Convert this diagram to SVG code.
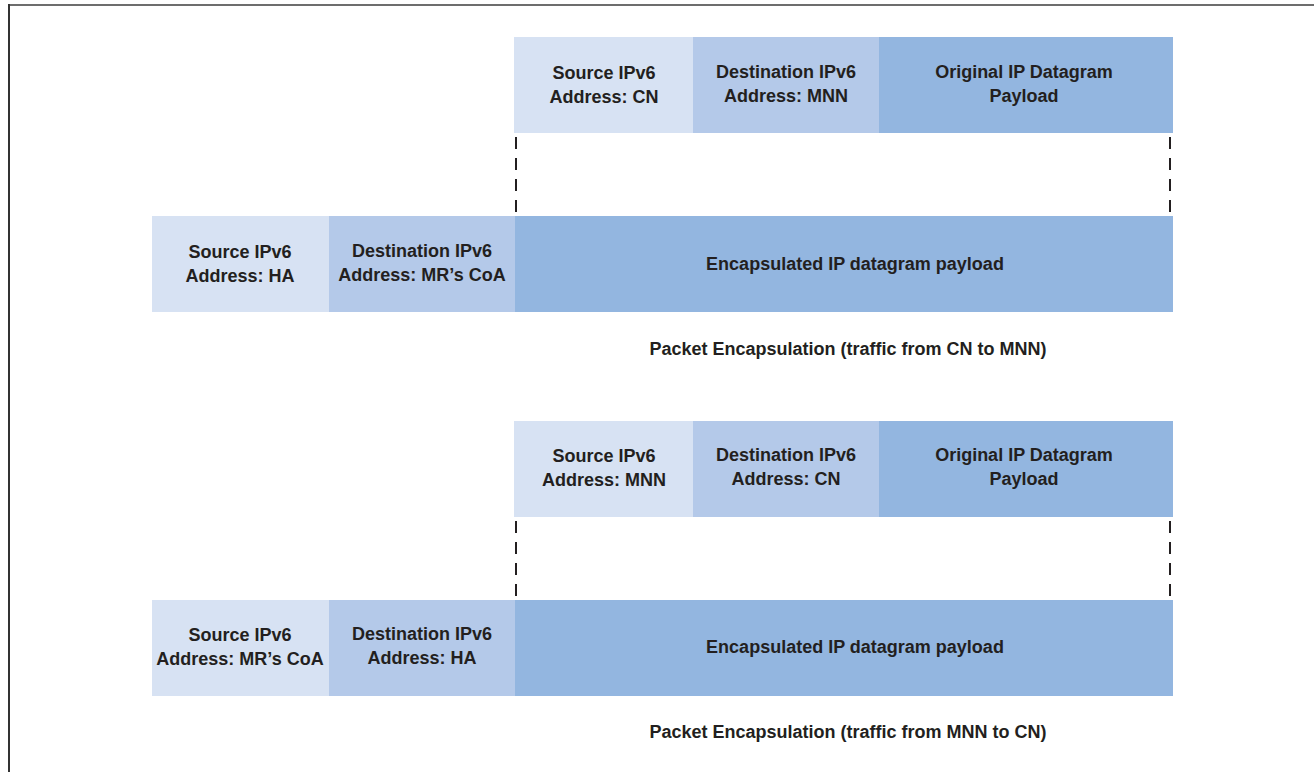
<svg xmlns="http://www.w3.org/2000/svg" width="1314" height="772" viewBox="0 0 1314 772">
<style>
.t{font-family:"Liberation Sans Narrow","Liberation Sans",Arial,sans-serif;font-weight:bold;font-size:18px;fill:#231f20;text-anchor:middle}
.c1{fill:#d7e2f3}.c2{fill:#b4c9e9}.c3{fill:#93b6e0}
.d{stroke:#231f20;stroke-width:2;stroke-dasharray:12 9;fill:none}
</style>
<rect width="1314" height="772" fill="#fff"/>
<line x1="9" y1="5" x2="1314" y2="5" stroke="#6d6d6d" stroke-width="2"/>
<line x1="9" y1="4" x2="9" y2="772" stroke="#333" stroke-width="2"/>
<g id="top1">
<rect class="c1" x="514" y="37" width="179" height="96"/>
<rect class="c2" x="693" y="37" width="186" height="96"/>
<rect class="c3" x="879" y="37" width="294" height="96"/>
<text class="t" x="604" y="79">Source IPv6</text><text class="t" x="604" y="103">Address: CN</text>
<text class="t" x="786" y="78">Destination IPv6</text><text class="t" x="786" y="102">Address: MNN</text>
<text class="t" x="1024" y="78">Original IP Datagram</text><text class="t" x="1024" y="102">Payload</text>
</g>
<g id="mid1">
<rect class="c1" x="152" y="216" width="177" height="96"/>
<rect class="c2" x="329" y="216" width="186" height="96"/>
<rect class="c3" x="515" y="216" width="658" height="96"/>
<text class="t" x="240" y="258">Source IPv6</text><text class="t" x="240" y="282">Address: HA</text>
<text class="t" x="422" y="257">Destination IPv6</text><text class="t" x="422" y="281">Address: MR’s CoA</text>
<text class="t" x="855" y="270">Encapsulated IP datagram payload</text>
</g>
<text class="t" x="848" y="355">Packet Encapsulation (traffic from CN to MNN)</text>
<g id="top2">
<rect class="c1" x="514" y="421" width="179" height="96"/>
<rect class="c2" x="693" y="421" width="186" height="96"/>
<rect class="c3" x="879" y="421" width="294" height="96"/>
<text class="t" x="604" y="462">Source IPv6</text><text class="t" x="604" y="486">Address: MNN</text>
<text class="t" x="786" y="461">Destination IPv6</text><text class="t" x="786" y="485">Address: CN</text>
<text class="t" x="1024" y="461">Original IP Datagram</text><text class="t" x="1024" y="485">Payload</text>
</g>
<g id="mid2">
<rect class="c1" x="152" y="600" width="177" height="96"/>
<rect class="c2" x="329" y="600" width="186" height="96"/>
<rect class="c3" x="515" y="600" width="658" height="96"/>
<text class="t" x="240" y="641">Source IPv6</text><text class="t" x="240" y="665">Address: MR’s CoA</text>
<text class="t" x="422" y="640">Destination IPv6</text><text class="t" x="422" y="664">Address: HA</text>
<text class="t" x="855" y="653">Encapsulated IP datagram payload</text>
</g>
<text class="t" x="848" y="738">Packet Encapsulation (traffic from MNN to CN)</text>
<g id="connectors">
<line class="d" x1="516" y1="137" x2="516" y2="214"/>
<line class="d" x1="1170" y1="137" x2="1170" y2="214"/>
<line class="d" x1="516" y1="521" x2="516" y2="598"/>
<line class="d" x1="1170" y1="521" x2="1170" y2="598"/>
</g>
</svg>
